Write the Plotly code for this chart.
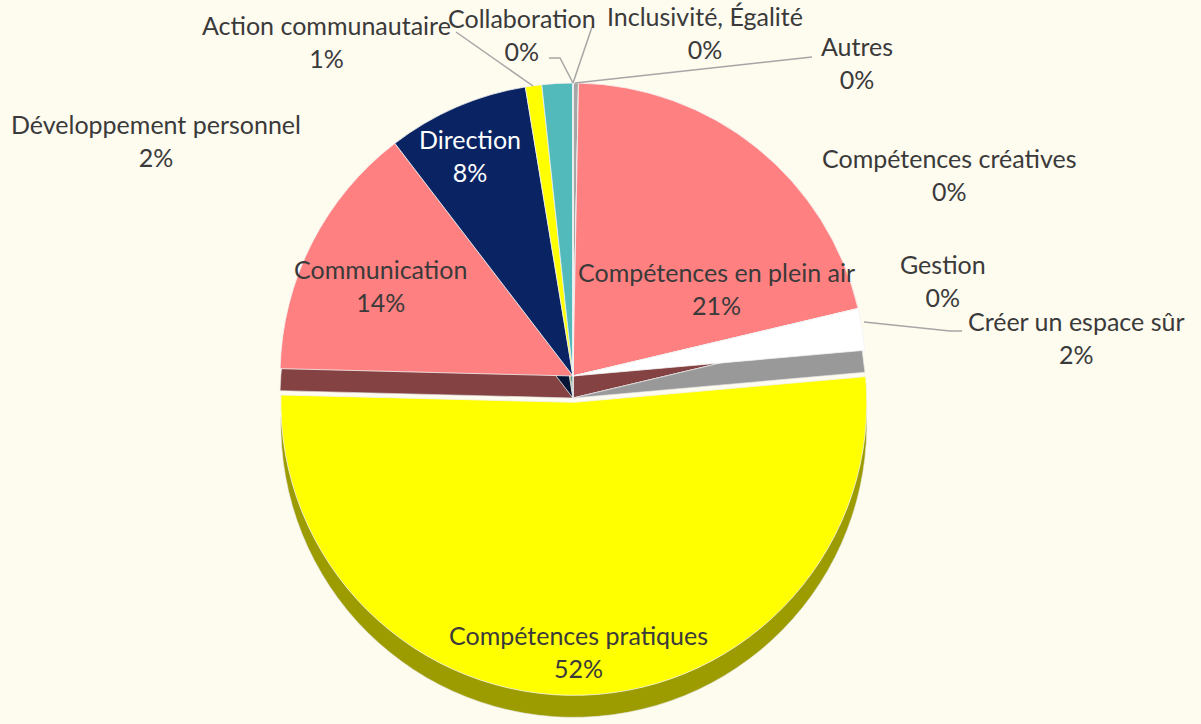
import plotly.graph_objects as go

W, H = 1201, 724

# ---- data (clockwise from 12 o'clock) ----
labels = ["Autres", "Compétences créatives", "Compétences en plein air", "Gestion",
          "Créer un espace sûr", "Compétences pratiques", "Communication", "Direction",
          "Action communautaire", "Développement personnel", "Collaboration",
          "Inclusivité, Égalité"]
values = [0.3, 0.0, 21.0, 0.0, 2.3, 51.8, 14.2, 7.8, 0.9, 1.7, 0.0, 0.0]

top_colors = ["#A6A6A6", "#FF8080", "#FF8080", "#FFFFFF", "#FFFFFF", "#FFFF00",
              "#FF8080", "#0A2463", "#FFFF00", "#52BABA", "#A6A6A6", "#A6A6A6"]
side_colors = ["#6E6E6E", "#844242", "#844242", "#999999", "#999999", "#9C9C00",
               "#844242", "#061535", "#9C9C00", "#2F7A7A", "#6E6E6E", "#6E6E6E"]
pull = [0, 0, 0, 0, 0, 0.09, 0, 0, 0, 0, 0, 0]

total = sum(values)
pcts = [f"{round(v / total * 100)}%" for v in values]

def px(x, y):
    return x / W, 1 - y / H

# pie placement (pixels)
cx, cy, rad = 573, 376, 293
half = rad * (1 + max(pull))
depth = 22
x0, _ = px(cx - half, 0)
x1, _ = px(cx + half, 0)
_, ytop = px(0, cy - half)
_, ybot = px(0, cy + half)
_, ytop2 = px(0, cy - half + depth)
_, ybot2 = px(0, cy + half + depth)

fig = go.Figure()
# side (depth) layer
fig.add_trace(go.Pie(
    labels=labels, values=values, sort=False, direction="clockwise", rotation=0,
    pull=pull, marker=dict(colors=side_colors, line=dict(color="#E8E8E8", width=0.6)),
    textinfo="none", hoverinfo="skip", showlegend=False,
    domain=dict(x=[x0, x1], y=[ybot2, ytop2]),
))
# top layer
fig.add_trace(go.Pie(
    labels=labels, values=values, sort=False, direction="clockwise", rotation=0,
    pull=pull, marker=dict(colors=top_colors, line=dict(color="#F2F2F2", width=0.8)),
    textinfo="none", hoverinfo="label+percent", showlegend=False,
    domain=dict(x=[x0, x1], y=[ybot, ytop]),
))

# label positions (pixel centres of the two-line labels) and leader lines
label_pos = {
    "Autres": (857, 62),
    "Compétences créatives": (949, 175),
    "Compétences en plein air": (716, 288),
    "Gestion": (943, 280),
    "Créer un espace sûr": (1076, 337),
    "Compétences pratiques": (578, 651),
    "Communication": (380, 285),
    "Direction": (470, 155),
    "Action communautaire": (326, 41),
    "Développement personnel": (156, 140),
    "Collaboration": (522, 34),
    "Inclusivité, Égalité": (705, 33),
}
leaders = {
    "Autres": [(812, 57), (575, 83)],
    "Créer un espace sûr": [(962, 331), (950, 331), (864, 322)],
    "Action communautaire": [(456, 32), (533, 86)],
    "Collaboration": [(549, 58), (560, 58), (573, 83)],
    "Inclusivité, Égalité": [(592, 27), (573, 83)],
}

annotations = []
for lab, pct in zip(labels, pcts):
    x, y = label_pos[lab]
    ax, ay = px(x, y)
    col = "#FFFFFF" if lab == "Direction" else "#3A3A3A"
    annotations.append(dict(
        x=ax, y=ay, xref="paper", yref="paper", showarrow=False,
        text=f"{lab}<br>{pct}", align="center",
        font=dict(family="Lato", size=25, color=col),
        xanchor="center", yanchor="middle",
    ))

shapes = []
for lab, pts in leaders.items():
    path = ""
    for i, (x, y) in enumerate(pts):
        a, b = px(x, y)
        path += ("M" if i == 0 else " L") + f" {a:.5f},{b:.5f}"
    shapes.append(dict(type="path", path=path, xref="paper", yref="paper",
                       line=dict(color="#A6A6A6", width=1.5)))

fig.update_layout(
    width=W, height=H, margin=dict(l=0, r=0, t=0, b=0),
    paper_bgcolor="#FEFBEF", plot_bgcolor="#FEFBEF",
    annotations=annotations, shapes=shapes,
    font=dict(family="Lato"),
)

fig.write_html("out.html", config={"displayModeBar": False},
               post_script="document.body.style.margin='0';document.body.style.background='#FEFBEF';")
